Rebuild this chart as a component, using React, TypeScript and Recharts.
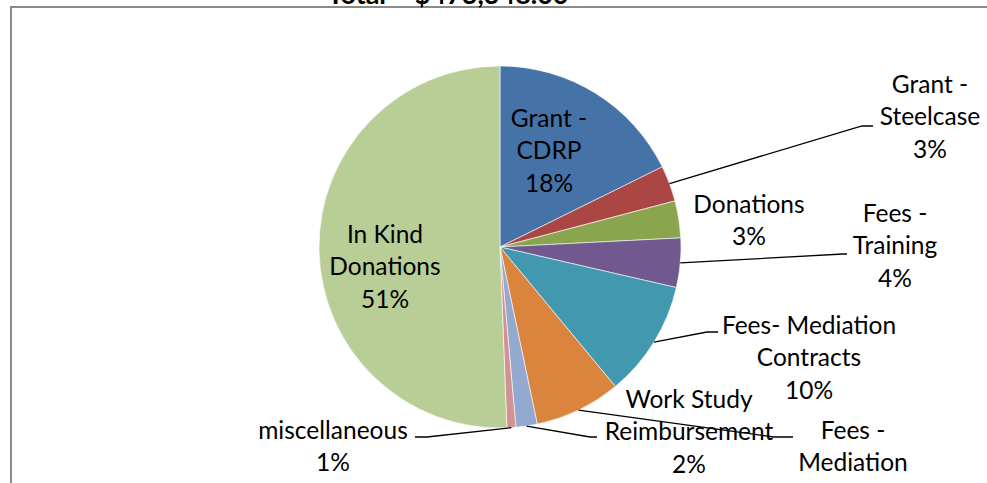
import React from 'react';
import { PieChart, Pie, Cell } from 'recharts';

// revenue sources, share of total (percent)
const categories = [
  'Grant - CDRP',
  'Grant - Steelcase',
  'Donations',
  'Fees - Training',
  'Fees- Mediation Contracts',
  'Fees - Mediation',
  'Work Study Reimbursement',
  'miscellaneous',
  'In Kind Donations',
];
const shares = [17.7, 3.2, 3.3, 4.4, 10.4, 7.7, 1.9, 0.8, 50.6];
const labelLines = [
  ['Grant -', 'CDRP'],
  ['Grant -', 'Steelcase'],
  ['Donations'],
  ['Fees -', 'Training'],
  ['Fees- Mediation', 'Contracts'],
  ['Fees -', 'Mediation'],
  ['Work Study', 'Reimbursement'],
  ['miscellaneous'],
  ['In Kind', 'Donations'],
];
const colors = ['#4572A7', '#AA4643', '#89A54E', '#71588F', '#4198AF', '#DB843D', '#93A9CF', '#D19392', '#B9CD96'];

const data = categories.map((name, i) => ({ name, value: shares[i] }));

// label placement relative to the pie centre (first baseline), plus leader elbows
const labelSpots: { dx: number; dy: number; elbow?: [number, number]; end?: [number, number] }[] = [
  { dx: 49, dy: -120 },
  { dx: 430, dy: -154, elbow: [362, -121], end: [373, -121] },
  { dx: 249, dy: -34 },
  { dx: 395, dy: -25, elbow: [343, 7], end: [347, 7] },
  { dx: 309, dy: 87, elbow: [207, 85], end: [218, 85] },
  { dx: 353, dy: 192, elbow: [274, 190], end: [293, 190] },
  { dx: 189, dy: 161, elbow: [90, 190], end: [97, 190] },
  { dx: -167, dy: 192, elbow: [-73, 190], end: [-85, 190] },
  { dx: -115, dy: -4 },
];

const FONT = 'Lato, "Open Sans", sans-serif';
const RADIAN = Math.PI / 180;

const renderLabel = (props: any) => {
  const { cx, cy, midAngle, outerRadius, percent, index } = props;
  const spot = labelSpots[index];
  const lines = [...labelLines[index], `${Math.round(percent * 100)}%`];
  const x = cx + spot.dx;
  const y0 = cy + spot.dy;
  let leader = null;
  if (spot.elbow && spot.end) {
    const sx = cx + outerRadius * Math.cos(-midAngle * RADIAN);
    const sy = cy + outerRadius * Math.sin(-midAngle * RADIAN);
    const pts = `${sx},${sy} ${cx + spot.elbow[0]},${cy + spot.elbow[1]} ${cx + spot.end[0]},${cy + spot.end[1]}`;
    leader = <polyline points={pts} fill="none" stroke="#000" strokeWidth={1.3} />;
  }
  return (
    <g key={`lbl-${index}`}>
      {leader}
      <text x={x} y={y0} textAnchor="middle" fontFamily={FONT} fontSize={24.5} fill="#000">
        {lines.map((l, i) => (
          <tspan key={i} x={x} y={y0 + i * 32.3}>
            {l}
          </tspan>
        ))}
      </text>
    </g>
  );
};

export default function App() {
  return (
    <div
      style={{
        position: 'fixed',
        left: 0,
        top: 0,
        width: 987,
        height: 483,
        overflow: 'hidden',
        background: '#fff',
      }}
    >
      <div
        style={{
          position: 'absolute',
          left: 10,
          top: 6,
          width: 1100,
          height: 600,
          border: '2px solid #8a8a8a',
        }}
      />
      <svg width={987} height={20} style={{ position: 'absolute', left: 0, top: 0 }}>
        <text x={448} y={3.5} textAnchor="middle" fontFamily={FONT} fontSize={27} fontWeight="bold" fill="#000">
          Total = $473,348.00
        </text>
      </svg>
      <div style={{ position: 'absolute', left: 0, top: 0 }}>
        <PieChart width={987} height={483} margin={{ top: 0, right: 0, bottom: 0, left: 0 }}>
          <Pie
            data={data}
            dataKey="value"
            nameKey="name"
            cx={500}
            cy={247}
            outerRadius={181}
            startAngle={90}
            endAngle={-270}
            stroke="#fff"
            strokeWidth={0.6}
            label={renderLabel}
            labelLine={false}
            isAnimationActive={false}
          >
            {data.map((d, i) => (
              <Cell key={d.name} fill={colors[i]} />
            ))}
          </Pie>
        </PieChart>
      </div>
    </div>
  );
}
